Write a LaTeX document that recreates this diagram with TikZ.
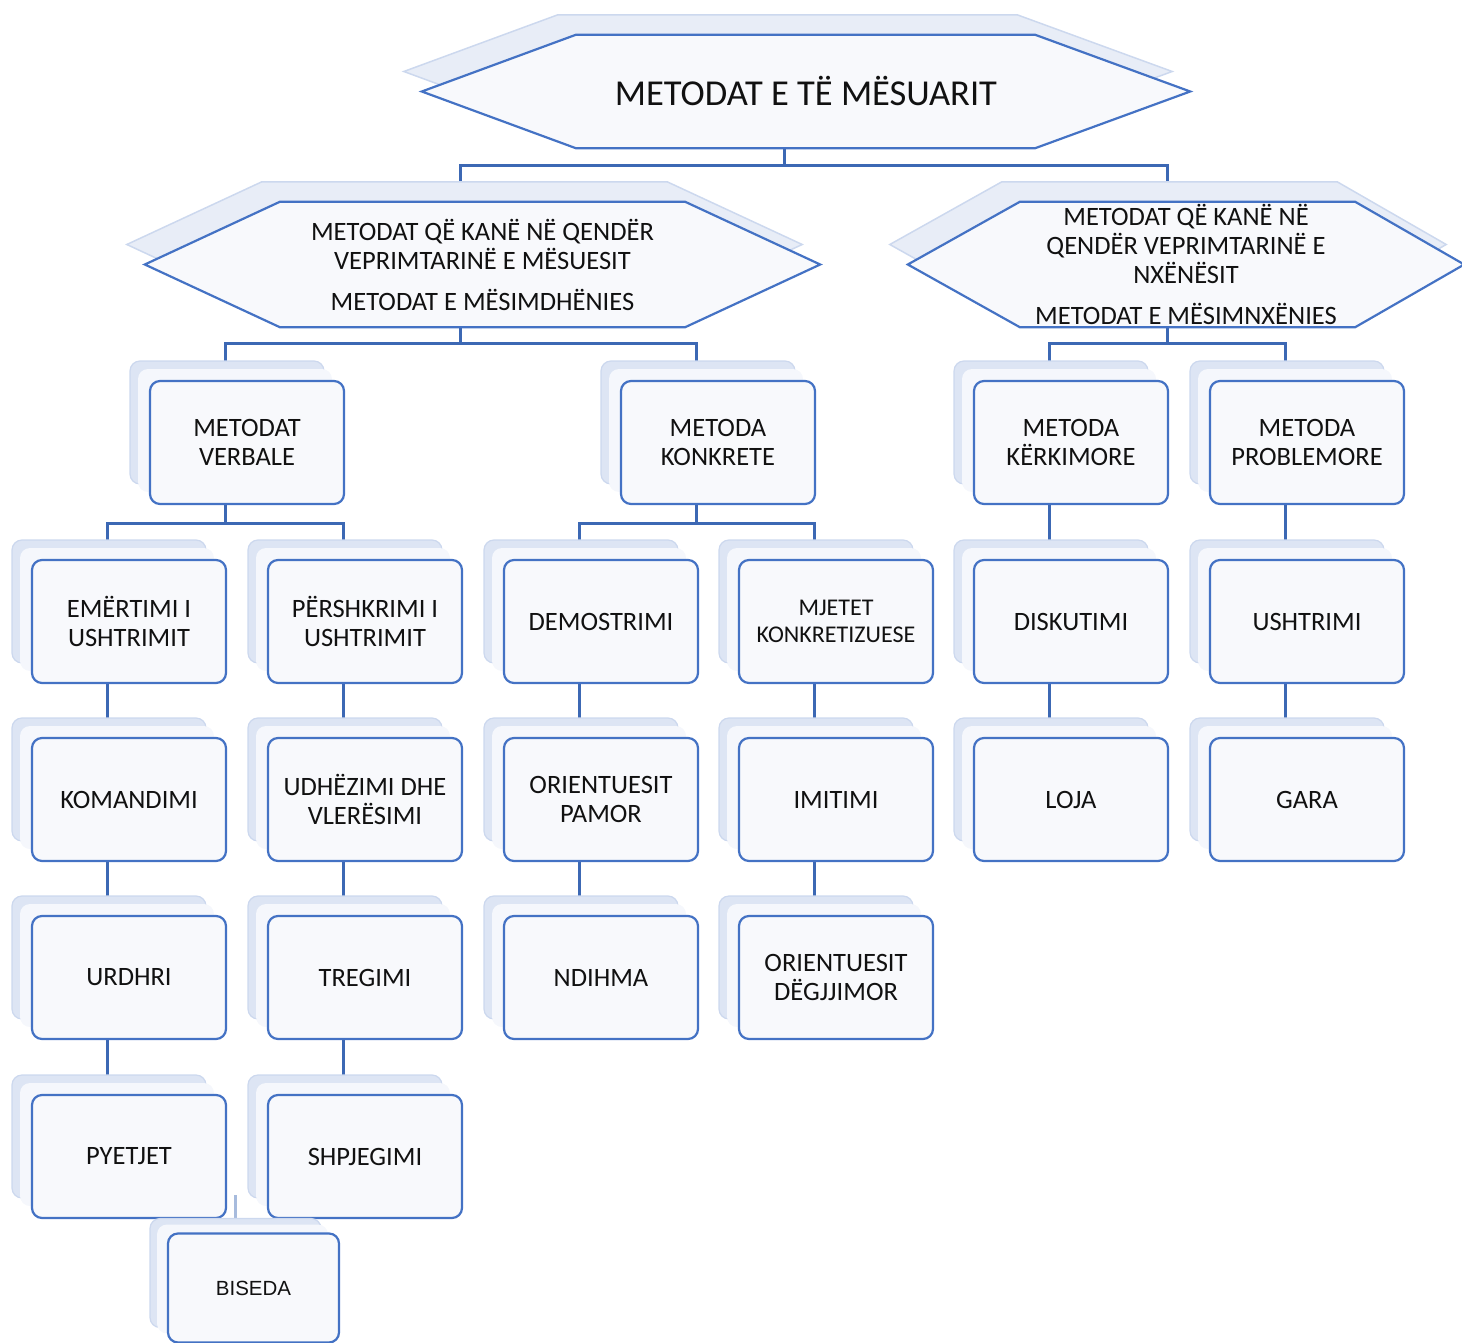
\documentclass[tikz,border=0pt]{standalone}
\usepackage{fontspec}
\setmainfont{Carlito}
\newfontfamily\bisfont{Liberation Sans}
\usetikzlibrary{shadows,calc}
\definecolor{boxblue}{HTML}{4472C4}
\definecolor{connblue}{HTML}{3C68B4}
\definecolor{boxfill}{HTML}{F8F9FC}
\definecolor{shadfill}{HTML}{DDE5F4}
\definecolor{shadinner}{HTML}{F5F7FC}
\definecolor{shadline}{HTML}{CCD8EE}
\definecolor{hexshad}{HTML}{E8EDF7}
\definecolor{txt}{HTML}{111111}
\pgfdeclarelayer{conn}
\pgfdeclarelayer{hshadow}
\pgfdeclarelayer{hfill}
\pgfsetlayers{conn,hshadow,hfill,main}
\tikzset{
  box/.style={draw=boxblue, line width=2.2pt, fill=boxfill, rounded corners=10pt,
    minimum width=194pt, minimum height=123pt, align=center, inner sep=2pt, text=txt,
    font=\fontsize{26.5}{28.5}\selectfont,
    general shadow={shadow xshift=-20pt, shadow yshift=20pt, fill=shadfill, draw=shadline, line width=1.2pt},
    general shadow={shadow xshift=-12pt, shadow yshift=12pt, fill=shadinner, draw=none}},
  hexnode/.style={align=center, inner sep=0pt, text=txt, font=\fontsize{26.5}{29}\selectfont},
  hexmain/.style={draw=boxblue, line width=2.2pt, fill=boxfill},
  hexshadow/.style={draw=shadline, line width=1.5pt, fill=hexshad},
  conn/.style={draw=connblue, line width=3pt},
}
\newcommand{\myhex}[3]{%
  \begin{pgfonlayer}{hshadow}
    \draw[hexshadow] ([shift={(-18,-20)}]#1.west) -- ([shift={(#2-18,-20)}]#1.north west)
      -- ([shift={(-#3-18,-20)}]#1.north east) -- ([shift={(-18,-20)}]#1.east)
      -- ([shift={(-#3-18,-20)}]#1.south east) -- ([shift={(#2-18,-20)}]#1.south west) -- cycle;
  \end{pgfonlayer}
  \begin{pgfonlayer}{hfill}
    \draw[hexmain] (#1.west) -- ([xshift=#2pt]#1.north west) -- ([xshift=-#3pt]#1.north east)
      -- (#1.east) -- ([xshift=-#3pt]#1.south east) -- ([xshift=#2pt]#1.south west) -- cycle;
  \end{pgfonlayer}}
\begin{document}
\begin{tikzpicture}[x=1pt,y=-1pt]
\useasboundingbox (0,0) rectangle (1462,1343);
% hexagons
\node[hexnode, minimum width=768pt, minimum height=113pt, font=\fontsize{36.5}{40}\selectfont] (title) at (806,91.5) {METODAT E TË MËSUARIT};
\myhex{title}{154}{155}
\node[hexnode, minimum width=675pt, minimum height=125pt] (L1) at (482.5,264.5)
  {METODAT QË KANË NË QENDËR\\VEPRIMTARINË E MËSUESIT\\[12pt]METODAT E MËSIMDHËNIES};
\myhex{L1}{135}{135}
\node[hexnode, minimum width=556pt, minimum height=125pt] (R1) at (1186,264.5)
  {METODAT QË KANË NË\\QENDËR VEPRIMTARINË E\\NXËNËSIT\\[12pt]METODAT E MËSIMNXËNIES};
\myhex{R1}{112}{109}
% row 1
\node[box] (verb) at (247,442.5) {METODAT\\VERBALE};
\node[box] (konk) at (718,442.5) {METODA\\KONKRETE};
\node[box] (kerk) at (1071,442.5) {METODA\\KËRKIMORE};
\node[box] (prob) at (1307,442.5) {METODA\\PROBLEMORE};
% column 1
\node[box] (a1) at (129,621.5) {EMËRTIMI I\\USHTRIMIT};
\node[box] (a2) at (129,799.5) {KOMANDIMI};
\node[box] (a3) at (129,977.5) {URDHRI};
\node[box] (a4) at (129,1156.5) {PYETJET};
% column 2
\node[box] (b1) at (365,621.5) {PËRSHKRIMI I\\USHTRIMIT};
\node[box] (b2) at (365,799.5) {UDHËZIMI DHE\\VLERËSIMI};
\node[box] (b3) at (365,977.5) {TREGIMI};
\node[box] (b4) at (365,1156.5) {SHPJEGIMI};
% column 3
\node[box] (c1) at (601,621.5) {DEMOSTRIMI};
\node[box] (c2) at (601,799.5) {ORIENTUESIT\\PAMOR};
\node[box] (c3) at (601,977.5) {NDIHMA};
% column 4
\node[box, font=\fontsize{24}{27}\selectfont] (d1) at (836,621.5) {MJETET\\KONKRETIZUESE};
\node[box] (d2) at (836,799.5) {IMITIMI};
\node[box] (d3) at (836,977.5) {ORIENTUESIT\\DËGJJIMOR};
% column 5, 6
\node[box] (e1) at (1071,621.5) {DISKUTIMI};
\node[box] (e2) at (1071,799.5) {LOJA};
\node[box] (f1) at (1307,621.5) {USHTRIMI};
\node[box] (f2) at (1307,799.5) {GARA};
% biseda
\node[draw=boxblue, line width=2.2pt, fill=boxfill, rounded corners=10pt, text=txt,
  minimum width=171pt, minimum height=109pt, font=\bisfont\fontsize{20.5}{23}\selectfont,
  general shadow={shadow xshift=-18pt, shadow yshift=15pt, fill=shadfill, draw=shadline, line width=1.2pt},
  general shadow={shadow xshift=-11pt, shadow yshift=9pt, fill=shadinner, draw=none}] (bis) at (253.5,1288) {BISEDA};
\coordinate (bistop) at (235,1195);
% connectors
\begin{pgfonlayer}{conn}
\draw[conn] ([xshift=-22pt]title.south) -- ++(0,17) -| ([xshift=-22pt]L1.north);
\draw[conn] ([xshift=-22pt]title.south) -- ++(0,17) -| ([xshift=-19pt]R1.north);
\draw[conn] ([xshift=-22pt]L1.south) -- ++(0,16) -| ([xshift=-22pt]verb.north);
\draw[conn] ([xshift=-22pt]L1.south) -- ++(0,16) -| ([xshift=-22pt]konk.north);
\draw[conn] ([xshift=-19pt]R1.south) -- ++(0,16) -| ([xshift=-22pt]kerk.north);
\draw[conn] ([xshift=-19pt]R1.south) -- ++(0,16) -| ([xshift=-22pt]prob.north);
\draw[conn] ([xshift=-22pt]verb.south) -- ++(0,18) -| ([xshift=-22pt]a1.north);
\draw[conn] ([xshift=-22pt]verb.south) -- ++(0,18) -| ([xshift=-22pt]b1.north);
\draw[conn] ([xshift=-22pt]konk.south) -- ++(0,18) -| ([xshift=-22pt]c1.north);
\draw[conn] ([xshift=-22pt]konk.south) -- ++(0,18) -| ([xshift=-22pt]d1.north);
\foreach \u/\v in {a1/a2,a2/a3,a3/a4,b1/b2,b2/b3,b3/b4,c1/c2,c2/c3,d1/d2,d2/d3,kerk/e1,e1/e2,prob/f1,f1/f2}
  \draw[conn] ([xshift=-22pt]\u.south) -- ([xshift=-22pt]\v.north);
\draw[conn, draw opacity=0.45] (bistop) -- (bistop |- bis.north);
\end{pgfonlayer}
\end{tikzpicture}
\end{document}
